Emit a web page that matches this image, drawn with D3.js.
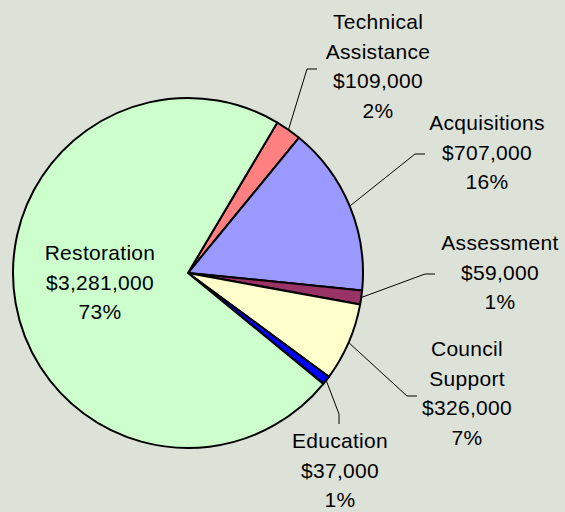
<!DOCTYPE html>
<html>
<head>
<meta charset="utf-8">
<script src="https://cdn.jsdelivr.net/npm/d3@7"></script>
<style>
  html, body { margin: 0; padding: 0; background: #DDE2D9; }
  svg { display: block; }
</style>
</head>
<body>
<svg id="chart" width="565" height="512"></svg>
<script>
// ---- data ----
const categories = ["Technical Assistance", "Acquisitions", "Assessment", "Council Support", "Education", "Restoration"];
const values = [109000, 707000, 59000, 326000, 37000, 3281000];
const labelLines = [
  ["Technical", "Assistance"],
  ["Acquisitions"],
  ["Assessment"],
  ["Council", "Support"],
  ["Education"],
  ["Restoration"]
];
const colors = ["#FF8080", "#9999FF", "#993366", "#FFFFCC", "#0000FF", "#CCFFCC"];

// ---- layout ----
const W = 565, H = 512;
const cx = 188, cy = 273, R = 175;
const startDeg = 30.7;
const fontSize = 21, lineH = 29.7;
// label layout: text centre x, first baseline y, leader elbow point, leader end point
const labelLayout = [
  { x: 378, y: 29,  elbow: [307, 69],  end: [317, 69] },
  { x: 487, y: 130, elbow: [415, 154], end: [425, 154] },
  { x: 500, y: 250, elbow: [425, 274], end: [435, 274] },
  { x: 467, y: 356, elbow: [407, 396], end: [417, 396] },
  { x: 340, y: 448, elbow: [339, 414], end: [339, 424] },
  { x: 100, y: 260, elbow: null, end: null }
];

const svg = d3.select("#chart");
svg.append("rect").attr("width", W).attr("height", H).attr("fill", "#DDE2D9");

const total = d3.sum(values);
const data = categories.map((c, i) => ({ name: c, value: values[i], lines: labelLines[i], color: colors[i], lay: labelLayout[i] }));

const pie = d3.pie().sort(null).value(d => d.value)
  .startAngle(startDeg * Math.PI / 180)
  .endAngle(startDeg * Math.PI / 180 + 2 * Math.PI);
const arcs = pie(data);
const arc = d3.arc().innerRadius(0).outerRadius(R);

const g = svg.append("g").attr("transform", `translate(${cx},${cy})`);
g.selectAll("path.slice").data(arcs).join("path")
  .attr("class", "slice")
  .attr("d", arc)
  .attr("fill", d => d.data.color)
  .attr("stroke", "#000")
  .attr("stroke-width", 2)
  .attr("stroke-linejoin", "round");

// leader lines
const fmtMoney = d3.format("$,");
arcs.forEach(a => {
  const lay = a.data.lay;
  if (!lay.elbow) return;
  const mid = (a.startAngle + a.endAngle) / 2;
  const px = cx + R * Math.sin(mid), py = cy - R * Math.cos(mid);
  svg.append("polyline")
    .attr("points", [[px, py], lay.elbow, lay.end].map(p => p.join(",")).join(" "))
    .attr("fill", "none")
    .attr("stroke", "#000")
    .attr("stroke-width", 1);
});

// labels
arcs.forEach(a => {
  const d = a.data, lay = d.lay;
  const lines = d.lines.concat([fmtMoney(d.value), Math.round(d.value / total * 100) + "%"]);
  const t = svg.append("text")
    .attr("x", lay.x).attr("y", lay.y)
    .attr("text-anchor", "middle")
    .attr("font-family", "Liberation Sans, Arial, sans-serif")
    .attr("font-size", fontSize)
    .attr("letter-spacing", 0.3)
    .attr("fill", "#000");
  lines.forEach((ln, i) => {
    t.append("tspan").attr("x", lay.x).attr("y", lay.y + i * lineH).text(ln);
  });
});
</script>
</body>
</html>
